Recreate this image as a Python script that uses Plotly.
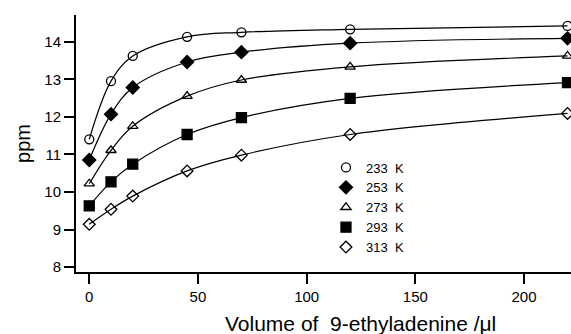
import plotly.graph_objects as go

volume = [0, 10, 20, 45, 70, 120, 220]
ppm_233 = [11.40, 12.95, 13.62, 14.13, 14.25, 14.33, 14.42]
ppm_253 = [10.85, 12.07, 12.78, 13.46, 13.72, 13.96, 14.09]
ppm_273 = [10.22, 11.11, 11.75, 12.55, 12.98, 13.33, 13.62]
ppm_293 = [9.63, 10.27, 10.74, 11.53, 11.98, 12.49, 12.91]
ppm_313 = [9.14, 9.54, 9.89, 10.56, 10.98, 11.53, 12.09]
labels = ["233\u00a0\u00a0K", "253\u00a0\u00a0K", "273\u00a0\u00a0K", "293\u00a0\u00a0K", "313\u00a0\u00a0K"]
x_ticks = [0, 50, 100, 150, 200]
y_ticks = [8, 9, 10, 11, 12, 13, 14]

series = [ppm_233, ppm_253, ppm_273, ppm_293, ppm_313]
symbols = [
    dict(symbol="circle-open", size=9),
    dict(symbol="diamond", size=10),
    dict(symbol="triangle-up-open", size=9),
    dict(symbol="square", size=10),
    dict(symbol="diamond-open", size=9),
]

FONT = "Liberation Sans, Arial, sans-serif"

fig = go.Figure()
for ys in series:
    fig.add_trace(go.Scatter(x=volume, y=ys, mode="lines",
                             line=dict(color="black", width=1.2, shape="spline", smoothing=1.0),
                             showlegend=False, hoverinfo="skip"))
for ys, lab, sym in zip(series, labels, symbols):
    fig.add_trace(go.Scatter(x=volume, y=ys, mode="markers", name=lab,
                             marker=dict(symbol=sym["symbol"], size=sym["size"], color="black",
                                         line=dict(color="black", width=1.3))))

tick_font = dict(family=FONT, size=15, color="black")
fig.update_layout(
    width=571, height=334,
    margin=dict(l=76, r=0, t=15, b=62),
    plot_bgcolor="white", paper_bgcolor="white",
    font=dict(family=FONT, size=14, color="black"),
    legend=dict(x=0.505, y=0.465, xanchor="left", yanchor="top",
                bgcolor="rgba(0,0,0,0)", font=dict(family=FONT, size=13, color="black"),
                tracegroupgap=0, itemwidth=30),
    xaxis=dict(range=[-6.1, 221.6], tickvals=x_ticks,
               showline=True, linecolor="black", linewidth=2,
               ticks="outside", ticklen=10, tickwidth=2, tickcolor="black",
               showgrid=False, zeroline=False, tickfont=tick_font),
    yaxis=dict(range=[7.87, 14.71], tickvals=y_ticks,
               showline=True, linecolor="black", linewidth=2,
               ticks="outside", ticklen=10, tickwidth=2, tickcolor="black",
               showgrid=False, zeroline=False, tickfont=tick_font,
               title=dict(text="ppm", font=dict(family=FONT, size=20, color="black"),
                          standoff=8)),
    annotations=[dict(text="Volume of\u00a0\u00a09-ethyladenine /μl", xref="paper", yref="paper",
                      x=(360 - 76) / 495, y=-(323 - 271.7) / 256.7, xanchor="center", yanchor="middle",
                      showarrow=False, font=dict(family=FONT, size=21, color="black"))],
)
fig.write_html("out.html")
